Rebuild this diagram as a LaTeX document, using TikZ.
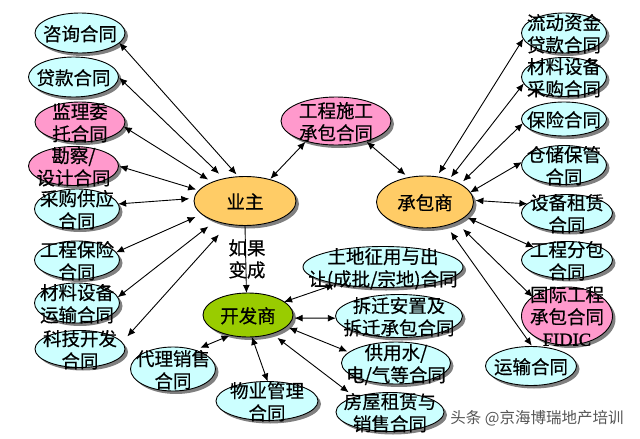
\documentclass[tikz,border=0pt]{standalone}
\usepackage{fontspec}
\setmainfont[FakeBold=0.5]{Noto Sans CJK SC}
\newfontfamily\markfont{Noto Sans CJK SC}
\newfontfamily\fidicfont[FakeBold=1.2]{Liberation Serif}
\usepackage{tikz}
\usetikzlibrary{shapes.geometric,shadows,arrows.meta}
\definecolor{skyc}{HTML}{CCFFFF}
\definecolor{pinkc}{HTML}{FF99CC}
\definecolor{orangec}{HTML}{FFCC66}
\definecolor{greenc}{HTML}{99CC00}
\definecolor{markc}{HTML}{555555}
\newcommand{\ovaltxt}[1]{\smash{\makebox[0pt]{\raisebox{-.5\height}{\begin{tabular}[b]{@{}c@{}}#1\end{tabular}}}}}

\begin{document}
\begin{tikzpicture}[x=1pt,y=-1pt,
    oval/.style 2 args={ellipse,draw=black,line width=0.9pt,inner sep=0pt,outer sep=0pt,
      minimum width=#1,minimum height=#2,font=\fontsize{18.5}{22}\selectfont,
      drop shadow={shadow xshift=3pt,shadow yshift=-3pt,fill=gray,opacity=1}},
    skyoval/.style 2 args={oval={#1}{#2},fill=skyc},
    pinkoval/.style 2 args={oval={#1}{#2},fill=pinkc},
    hub/.style 2 args={oval={#1}{#2},fill=orangec},
    link/.style={line width=0.9pt,{Latex[length=8pt,width=7pt]}-{Latex[length=8pt,width=7pt]}}]
  \useasboundingbox (0,0) rectangle (640,439);
  % left column
  \node[skyoval={90}{40}] (zixun) at (80,33) {\ovaltxt{咨询合同}};
  \node[skyoval={90}{40}] (daikuan) at (73.5,77) {\ovaltxt{贷款合同}};
  \node[pinkoval={90}{40}] (jianli) at (80,122) {\ovaltxt{监理委\\托合同}};
  \node[pinkoval={90}{39}] (kancha) at (73.5,166) {\ovaltxt{勘察/\\设计合同}};
  \node[skyoval={85}{40}] (caigou) at (77,209) {\ovaltxt{采购供应\\合同}};
  \node[skyoval={85}{38}] (baoxian) at (77,260) {\ovaltxt{工程保险\\合同}};
  \node[skyoval={85}{40}] (yunshu) at (77,303) {\ovaltxt{材料设备\\运输合同}};
  \node[skyoval={90}{37}] (keji) at (80,349) {\ovaltxt{科技开发\\合同}};
  % middle
  \node[hub={102}{49}] (yezhu) at (245,201) {\ovaltxt{业主}};
  \node[hub={97}{52}] (chengbao) at (425,202) {\ovaltxt{承包商}};
  \node[oval={90}{44},fill=greenc] (kaifa) at (248,315) {\ovaltxt{开发商}};
  \node[pinkoval={110}{48}] (shigong) at (336,121) {\ovaltxt{工程施工\\承包合同}};
  \node[skyoval={85}{44}] (daili) at (173,369) {\ovaltxt{代理销售\\合同}};
  \node[skyoval={102}{39}] (wuye) at (267,401) {\ovaltxt{物业管理\\合同}};
  \node[skyoval={160}{41}] (tudi) at (383,267) {\ovaltxt{土地征用与出\\让(成批/宗地)合同}};
  \node[skyoval={127}{43}] (chaiqian) at (399,316) {\ovaltxt{拆迁安置及\\拆迁承包合同}};
  \node[skyoval={109}{42}] (gongshui) at (396,363) {\ovaltxt{供用水/\\电/气等合同}};
  \node[skyoval={108}{39}] (fangwu) at (390,412) {\ovaltxt{房屋租赁与\\销售合同}};
  % right column
  \node[skyoval={85}{40}] (liudong) at (564,33) {\ovaltxt{流动资金\\贷款合同}};
  \node[skyoval={85}{39}] (cailiao) at (564,77) {\ovaltxt{材料设备\\采购合同}};
  \node[skyoval={85}{34}] (bxian) at (564,119) {\ovaltxt{保险合同}};
  \node[skyoval={85}{39}] (cangchu) at (564,165) {\ovaltxt{仓储保管\\合同}};
  \node[skyoval={91}{37}] (zulin) at (567,213) {\ovaltxt{设备租赁\\合同}};
  \node[skyoval={91}{37}] (fenbao) at (567,260) {\ovaltxt{工程分包\\合同}};
  \node[pinkoval={91}{58}] (guoji) at (567,316) {\ovaltxt{国际工程\\承包合同\\{\fidicfont FIDIC}}};
  \node[skyoval={91}{39}] (yshu) at (531,366) {\ovaltxt{运输合同}};
  \node[font=\fontsize{18.5}{22}\selectfont,align=center,inner sep=0pt] (rugo) at (247,259) {如果\\变成};
  \node[font=\fontsize{15.5}{18}\selectfont\markfont,text=markc,inner sep=0pt] (mark) at (537,418) {头条 @京海博瑞地产培训};
  % arrows, start angle/start gap/end angle/end gap
  \foreach \a/\p/\sa/\b/\q/\sb in {zixun/-14/0/yezhu/105/3,daikuan/0/1/yezhu/133/7,jianli/-6/0/yezhu/150/5,
      kancha/0/1/yezhu/167/3,caigou/7/0/yezhu/177/5,baoxian/11/0/yezhu/197/7,yunshu/8/0/yezhu/214/9,keji/9/8/yezhu/234/14,
      shigong/214/1/yezhu/41/1,shigong/-34/1/chengbao/124/4,
      liudong/188/0/chengbao/65/4,cailiao/189/0/chengbao/43/3,bxian/186/0/chengbao/27/4,cangchu/176/0/chengbao/12/0,
      zulin/167/0/chengbao/2/2,fenbao/159/0/chengbao/-20/3,guoji/151/0/chengbao/-33/10,yshu/86/1/chengbao/-48/8,
      tudi/200/3/kaifa/20/0,chaiqian/182/0/kaifa/-4/2,gongshui/167/2/kaifa/-17.6/3,fangwu/157/8/kaifa/-38/7,
      wuye/88/0/kaifa/-80/0,daili/41.5/6/kaifa/229/1}
    \draw[link,shorten <=\sa pt,shorten >=\sb pt] (\a.\p) -- (\b.\q);
  \draw[line width=0.9pt,-{Latex[length=8pt,width=7pt]}] (yezhu.-90) -- (kaifa.94);
\end{tikzpicture}
\end{document}
